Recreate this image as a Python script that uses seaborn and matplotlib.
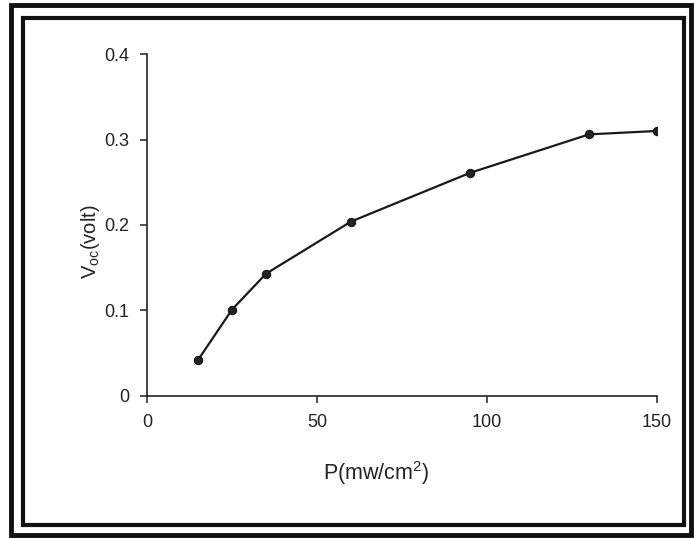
import matplotlib
matplotlib.use("Agg")
import matplotlib.pyplot as plt
from matplotlib.patches import Rectangle
import seaborn as sns
import pandas as pd

# Light intensity vs open-circuit voltage
power = [15, 25, 35, 60, 95, 130, 150]
voc = [0.042, 0.101, 0.143, 0.204, 0.261, 0.306, 0.310]
x_ticks = [0, 50, 100, 150]
y_ticks = [0, 0.1, 0.2, 0.3, 0.4]
y_tick_labels = ["0", "0.1", "0.2", "0.3", "0.4"]

df = pd.DataFrame({"P": power, "Voc": voc})

sns.set_theme(style="ticks")
plt.rcParams["font.family"] = ["Liberation Sans", "DejaVu Sans"]
plt.rcParams["mathtext.fontset"] = "custom"
plt.rcParams["mathtext.rm"] = "Liberation Sans"

fig = plt.figure(figsize=(6.94, 5.38), dpi=100)
ax = fig.add_axes([0.2118, 0.264, 0.735, 0.6356])

sns.lineplot(data=df, x="P", y="Voc", ax=ax, color="#1a1a1a", linewidth=1.6,
             marker="o", markersize=6, markerfacecolor="#222222",
             markeredgecolor="#111111")

ax.set_xlim(0, 150)
ax.set_ylim(0, 0.4)
ax.set_xticks(x_ticks)
ax.set_yticks(y_ticks)
ax.set_yticklabels(y_tick_labels)
ax.tick_params(direction="out", length=5, width=1.1, colors="#222222",
               labelsize=13, labelcolor="#222222")
ax.tick_params(axis="y", pad=8)
ax.tick_params(axis="x", pad=8)
for side in ("left", "bottom"):
    ax.spines[side].set_linewidth(1.2)
    ax.spines[side].set_color("#222222")
sns.despine(ax=ax)

ax.set_xlabel(r"P(mw/cm$^{\mathregular{2}}$)", fontsize=15.5, color="#222222")
ax.set_ylabel(r"V$_{\mathregular{oc}}$(volt)", fontsize=14.5, color="#222222")
ax.xaxis.set_label_coords(0.45, -0.185)
ax.yaxis.set_label_coords(-0.088, 0.45)

# Double frame around the figure
fig.patches.append(Rectangle((11 / 694, 1 - 535 / 538), 680 / 694, 530 / 538,
                             transform=fig.transFigure, fill=False,
                             edgecolor="#111111", linewidth=3.5))
fig.patches.append(Rectangle((23 / 694, 1 - 525 / 538), 661 / 694, 507 / 538,
                             transform=fig.transFigure, fill=False,
                             edgecolor="#111111", linewidth=3))

fig.savefig("out.png", dpi=100)
